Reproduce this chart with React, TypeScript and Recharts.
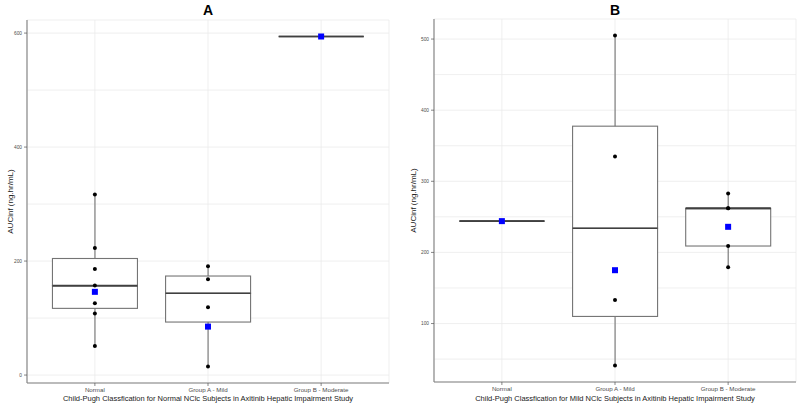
import React from 'react';
import { ComposedChart, Bar, Scatter, XAxis, YAxis, CartesianGrid } from 'recharts';

const categories = ['Normal', 'Group A - Mild', 'Group B - Moderate'];

// Panel A values (AUCinf, ng.hr/mL)
const aNormal = [317, 223, 186, 157, 126, 108, 51];
const aMild = [191, 168, 119, 15];
const aModerate = [594];
const aMeans = [146, 85, 594];
const aTicksMajor = [0, 200, 400, 600];
const aTicksMinor = [100, 300, 500];

// Panel B values
const bNormal = [244];
const bMild = [505, 335, 133, 41];
const bModerate = [283, 262, 262, 209, 179];
const bMeans = [244, 175, 236];
const bTicksMajor = [100, 200, 300, 400, 500];
const bTicksMinor = [50, 150, 250, 350, 450];

const titleA = 'A';
const titleB = 'B';
const xTitleA = 'Child-Pugh Classfication for Normal NClc Subjects in Axitinib Hepatic Impairment Study';
const xTitleB = 'Child-Pugh Classfication for Mild NClc Subjects in Axitinib Hepatic Impairment Study';
const yTitle = 'AUCinf (ng.hr/mL)';

const FONT = '"Liberation Sans", Arial, sans-serif';
const BOX = '#747474';
const MED = '#404040';

function quantile(sorted: number[], p: number) {
  const h = (sorted.length - 1) * p;
  const lo = Math.floor(h);
  const hi = Math.ceil(h);
  return sorted[lo] + (h - lo) * (sorted[hi] - sorted[lo]);
}

function buildRows(groups: number[][]) {
  return groups.map((vals, i) => {
    const s = [...vals].sort((a, b) => a - b);
    const q1 = quantile(s, 0.25);
    const med = quantile(s, 0.5);
    const q3 = quantile(s, 0.75);
    const iqr = q3 - q1;
    const lo = Math.min(...s.filter((v) => v >= q1 - 1.5 * iqr));
    const hi = Math.max(...s.filter((v) => v <= q3 + 1.5 * iqr));
    return { cat: categories[i], base: lo, lw: q1 - lo, bl: med - q1, bh: q3 - med, hw: hi - q3 };
  });
}

function buildPoints(groups: number[][]) {
  const out: { cat: string; v: number }[] = [];
  groups.forEach((vals, i) => vals.forEach((v) => out.push({ cat: categories[i], v })));
  return out;
}

const Whisker = (p: any) => (
  <line x1={p.x + p.width / 2} x2={p.x + p.width / 2} y1={p.y} y2={p.y + p.height} stroke={BOX} strokeWidth={1.1} />
);
const BoxLow = (p: any) => (
  <g>
    <rect x={p.x} y={p.y} width={p.width} height={Math.max(p.height, 0)} fill="#fff" stroke={BOX} strokeWidth={1.1} />
    <line x1={p.x} x2={p.x + p.width} y1={p.y} y2={p.y} stroke={MED} strokeWidth={1.7} />
  </g>
);
const BoxHigh = (p: any) => (
  <g>
    <rect x={p.x} y={p.y} width={p.width} height={Math.max(p.height, 0)} fill="#fff" stroke={BOX} strokeWidth={1.1} />
    <line x1={p.x} x2={p.x + p.width} y1={p.y + p.height} y2={p.y + p.height} stroke={MED} strokeWidth={1.7} />
  </g>
);
const Dot = (p: any) => <circle cx={p.cx} cy={p.cy} r={2} fill="#000" />;
const MeanSq = (p: any) => <rect x={p.cx - 3} y={p.cy - 3} width={6} height={6} fill="#0000ff" />;

interface PanelProps {
  groups: number[][];
  means: number[];
  majors: number[];
  minors: number[];
  title: string;
  xTitle: string;
  left: number;
  yWidth: number;
  marginRight: number;
  marginTop: number;
  xHeight: number;
  yLabelOffset: number;
  xLabelOffset: number;
}

function Panel(props: PanelProps) {
  const { groups, means, majors, minors, title, xTitle, left, yWidth, marginRight, marginTop, xHeight, yLabelOffset, xLabelOffset } = props;
  const W = 400;
  const H = 406;
  const rows = buildRows(groups);
  const points = buildPoints(groups);
  const meanPts = means.map((v, i) => ({ cat: categories[i], v }));
  const all = groups.flat().concat(means);
  const mn = Math.min(...all);
  const mx = Math.max(...all);
  const pad = (mx - mn) * 0.05;
  const domain = [mn - pad, mx + pad];
  const ticks = [...majors, ...minors].sort((a, b) => a - b);
  const plotW = W - yWidth - marginRight;
  const bandPad = (plotW / 3.2) * 0.1;

  const YTick = (tp: any) => {
    const { x, y, payload } = tp;
    if (!majors.includes(payload.value)) return <g />;
    return (
      <g>
        <line x1={x + 2} x2={x + 5} y1={y} y2={y} stroke="#555" strokeWidth={0.7} />
        <text x={x} y={y} dy={1.7} textAnchor="end" fontSize={4.8} fill="#4d4d4d" fontFamily={FONT}>
          {payload.value}
        </text>
      </g>
    );
  };

  return (
    <div style={{ position: 'absolute', left, top: 0, width: W, height: H }}>
      <div
        style={{
          position: 'absolute',
          left: yWidth,
          width: plotW,
          top: 2,
          textAlign: 'center',
          fontFamily: FONT,
          fontWeight: 'bold',
          fontSize: 14,
          lineHeight: '16px',
          color: '#000',
        }}
      >
        {title}
      </div>
      <ComposedChart
        width={W}
        height={H}
        data={rows}
        margin={{ top: marginTop, right: marginRight, bottom: 0, left: 0 }}
        barCategoryGap="12.5%"
      >
        <CartesianGrid stroke="#ebebeb" strokeWidth={0.8} />
        <XAxis
          dataKey="cat"
          type="category"
          allowDuplicatedCategory={false}
          height={xHeight}
          padding={{ left: bandPad, right: bandPad }}
          tickSize={3}
          tickMargin={2}
          tickLine={{ stroke: '#555', strokeWidth: 0.7 }}
          axisLine={{ stroke: '#808080', strokeWidth: 1.1 }}
          tick={{ fontSize: 6.2, fill: '#4d4d4d', fontFamily: FONT }}
          interval={0}
          label={{ value: xTitle, position: 'insideBottom', offset: xLabelOffset, fontSize: 7.5, fill: '#1a1a1a', fontFamily: FONT }}
        />
        <XAxis xAxisId="top" orientation="top" type="number" domain={[0, 1]} height={0} tick={false} tickLine={false} axisLine={{ stroke: '#808080', strokeWidth: 1.1 }} />
        <YAxis
          type="number"
          domain={domain}
          allowDataOverflow
          ticks={ticks}
          width={yWidth}
          tickSize={3}
          tickMargin={2}
          tickLine={false}
          axisLine={{ stroke: '#808080', strokeWidth: 1.1 }}
          tick={YTick}
          label={{
            value: yTitle,
            angle: -90,
            position: 'insideLeft',
            offset: yLabelOffset,
            fontSize: 8,
            fill: '#1a1a1a',
            fontFamily: FONT,
            style: { textAnchor: 'middle' },
          }}
        />
        <YAxis yAxisId="right" orientation="right" type="number" domain={[0, 1]} width={0} tick={false} tickLine={false} axisLine={{ stroke: '#808080', strokeWidth: 1.1 }} />
        <Bar dataKey="base" stackId="box" fill="none" shape={() => <g />} isAnimationActive={false} />
        <Bar dataKey="lw" stackId="box" shape={Whisker} isAnimationActive={false} />
        <Bar dataKey="bl" stackId="box" shape={BoxLow} isAnimationActive={false} />
        <Bar dataKey="bh" stackId="box" shape={BoxHigh} isAnimationActive={false} />
        <Bar dataKey="hw" stackId="box" shape={Whisker} isAnimationActive={false} />
        <Scatter data={points} dataKey="v" shape={Dot} isAnimationActive={false} />
        <Scatter data={meanPts} dataKey="v" shape={MeanSq} isAnimationActive={false} />
      </ComposedChart>
    </div>
  );
}

export default function App() {
  return (
    <div style={{ position: 'absolute', left: 0, top: 0, width: 800, height: 406, background: '#fff', overflow: 'hidden' }}>
      <Panel
        groups={[aNormal, aMild, aModerate]}
        means={aMeans}
        majors={aTicksMajor}
        minors={aTicksMinor}
        title={titleA}
        xTitle={xTitleA}
        left={0}
        yWidth={27}
        marginRight={11}
        marginTop={20}
        xHeight={23}
        yLabelOffset={10}
        xLabelOffset={5}
      />
      <Panel
        groups={[bNormal, bMild, bModerate]}
        means={bMeans}
        majors={bTicksMajor}
        minors={bTicksMinor}
        title={titleB}
        xTitle={xTitleB}
        left={400}
        yWidth={34}
        marginRight={4}
        marginTop={19}
        xHeight={24}
        yLabelOffset={13}
        xLabelOffset={5.5}
      />
    </div>
  );
}
